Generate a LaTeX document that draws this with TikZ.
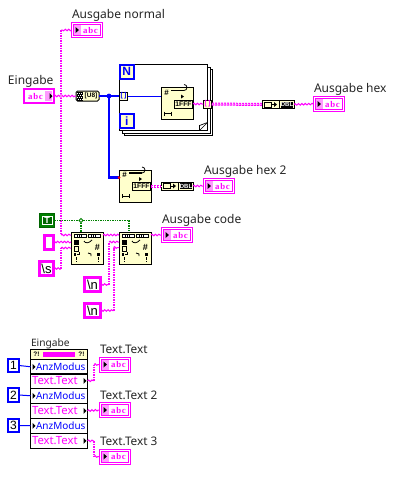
\documentclass[tikz,border=0pt]{standalone}
\usepackage{fontspec}
\setmainfont{Noto Sans}
\newfontfamily\abcfont[LetterSpace=9]{Liberation Serif}
\newfontfamily\monofnt{Liberation Sans}
\usetikzlibrary{decorations.pathmorphing,calc}
\definecolor{pnk}{RGB}{255,0,255}
\definecolor{lpnk}{RGB}{255,153,255}
\definecolor{pyl}{RGB}{255,255,204}
\definecolor{blu}{RGB}{0,0,255}
\definecolor{grn}{RGB}{0,128,0}
\definecolor{dgrn}{RGB}{0,100,0}
\tikzset{
  every node/.style={inner sep=0pt,outer sep=0pt},
  lbl/.style={anchor=base west,font=\fontsize{12}{12}\selectfont,text=black!85},
  smlbl/.style={anchor=base west,font=\fontsize{11.8}{12}\selectfont,text=black!85},
  strw/.style={pnk,line width=1pt,decorate,decoration={snake,segment length=3.4pt,amplitude=0.8pt}},
  strp/.style={pnk,line width=2pt,dash pattern=on 1.5pt off 1pt},
  strarr/.style={pnk,line width=3pt,dash pattern=on 2.2pt off 0.8pt,postaction={draw,white,line width=1pt,dash pattern=on 1pt off 2pt,dash phase=-0.6pt}},
  blthick/.style={blu,line width=2.4pt},
  blthin/.style={blu,line width=1pt},
  blmed/.style={blu,line width=1pt},
  grnw/.style={grn,line width=1.1pt,dash pattern=on 1.4pt off 1pt},
  ybox/.style={draw=black,fill=pyl,line width=1pt,minimum width=32pt,minimum height=32pt},
  regbox/.style={draw=black,fill=pyl,line width=1pt,minimum width=32pt,minimum height=32pt},
  convbox/.style={draw=black,fill=pyl,line width=1pt,minimum width=32pt,minimum height=8pt},
  tunnel/.style={draw=black,fill=pyl,line width=1pt,minimum width=8.5pt,minimum height=8pt},
  indbox/.style={draw=pnk,fill=white,line width=1pt,minimum width=31pt,minimum height=15pt},
  ctrlbox/.style={draw=pnk,fill=white,line width=2pt,minimum width=30pt,minimum height=14.5pt},
  strconst/.style={draw=pnk,fill=white,line width=3pt,font=\monofnt\fontsize{13}{13}\selectfont},
  numconst/.style={draw=blu,fill=white,line width=2.2pt,minimum width=11pt,minimum height=13.5pt,font=\monofnt\fontsize{12}{12}\selectfont},
  loopicon/.style={draw=blu,fill=pyl,line width=2pt,minimum width=13.5pt,minimum height=13.5pt,anchor=north west,font=\monofnt\bfseries\fontsize{12}{12}\selectfont,text=blu},
  loopbox/.style={draw=black,fill=white,line width=1pt,anchor=north west,minimum width=88pt,minimum height=66pt},
  tri/.style={fill=black},
  abctxt/.style={text=pnk,font=\abcfont\bfseries\fontsize{8.8}{9}\selectfont},
}
% indicator: name, centre x, centre y
\newcommand{\indic}[3]{%
  \node[indbox] (#1) at (#2,#3) {};
  \fill[lpnk] ($(#1.west)+(1.5,-6)$) rectangle ($(#1.west)+(9,6)$);
  \draw[pnk,line width=0.8pt] ($(#1.north west)+(2,2)$) rectangle ($(#1.south east)+(-2,-2)$);
  \fill[tri] ($(#1.west)+(4,-3)$) -- ($(#1.west)+(7.5,0)$) -- ($(#1.west)+(4,3)$) -- cycle;
  \node[abctxt] at ($(#1.center)+(3.5,0)$) {abc};
}
% regex-style node
\newcommand{\regicon}[2]{%
  \node[regbox] (#1) at (#2) {};
  \fill[black] ($(#1.north west)+(2.5,1.7)$) rectangle ($(#1.north west)+(15.5,6.3)$);
  \fill[black] ($(#1.north west)+(17,1.7)$) rectangle ($(#1.north west)+(30,6.3)$);
  \fill[white] ($(#1.north west)+(3.5,2.7)$) rectangle ($(#1.north west)+(14.5,5.3)$);
  \fill[white] ($(#1.north west)+(18,2.7)$) rectangle ($(#1.north west)+(29,5.3)$);
  \foreach \dx in {6,8,10,20,22,24}{\fill[black] ($(#1.north west)+(\dx,3)$) rectangle ++(1,2);}
  \fill[black] ($(#1.north west)+(2.5,7.5)$) rectangle ++(5,5.5);
  \draw[black,line width=0.8pt] ($(#1.north west)+(3,14.5)$) rectangle ++(4.5,4.5);
  \fill[black] ($(#1.north west)+(2.5,21)$) rectangle ++(2.5,2.5);
  \fill[black] ($(#1.north west)+(6,21.5)$) rectangle ++(3,1);
  \fill[black] ($(#1.north west)+(7.5,20)$) rectangle ++(1,2.5);
  \fill[black] ($(#1.north west)+(5,25)$) rectangle ++(1,3);
  \fill[black] ($(#1.north west)+(5,29)$) rectangle ++(1,1);
  \fill[black] ($(#1.north west)+(27,25)$) rectangle ++(1,3);
  \fill[black] ($(#1.north west)+(27,29)$) rectangle ++(1,1);
  \fill[black] ($(#1.north west)+(26,21)$) rectangle ++(3,3);
  \draw[black,line width=0.8pt] ($(#1.north west)+(13,9)$) .. controls ($(#1.north west)+(14,11.5)$) and ($(#1.north west)+(18,11.5)$) .. ($(#1.north west)+(21,8)$);
  \draw[black,line width=0.8pt] ($(#1.north west)+(17,21)$) -- ++(3,1) -- ++(0,2);
  \node[font=\monofnt\bfseries\fontsize{9}{9}\selectfont] at ($(#1.north west)+(26.5,15)$) {\#};
}
% string to hex node
\newcommand{\hexicon}[2]{%
  \node[ybox] (#1) at (#2) {};
  \node[font=\monofnt\bfseries\fontsize{8}{8}\selectfont] at ($(#1.north west)+(5.7,4.8)$) {\#};
  \draw[black,line width=1.6pt] ($(#1.north west)+(10,3)$) -- ++(13,0);
  \draw[black,line width=0.8pt] ($(#1.north west)+(23,3)$) arc (90:-90:3) ;
  \fill[black] ($(#1.north west)+(23,9)$) -- ++(-3,-2) -- ++(0,4) -- cycle;
  \node[draw=black,fill=pyl,line width=0.8pt,minimum width=18.5pt,minimum height=8pt,font=\monofnt\bfseries\fontsize{6.8}{6.8}\selectfont] at ($(#1.north east)+(-9.5,16.6)$) {1FFF};
  \draw[black,line width=0.8pt] ($(#1.south west)+(3,-6)$) -- ++(7,0);
  \draw[black,line width=1pt] ($(#1.south west)+(3,-8)$) -- ++(0,4) ($(#1.south west)+(10,-8)$) -- ++(0,4);
}
\newcommand{\convicon}[2]{%
  \node[convbox] (#1) at (#2) {};
  \draw[black,line width=0.8pt] ($(#1.west)+(2,-2.5)$) rectangle ++(7,5);
  \draw[black,line width=0.8pt] ($(#1.center)+(-6.5,0)$) -- ++(4,0);
  \fill[black] ($(#1.center)+(-1,0)$) -- ++(-3,-2.5) -- ++(0,5) -- cycle;
  \draw[black,line width=0.8pt] ($(#1.center)+(1.5,-4)$) -- ++(0,8);
  \fill[black] ($(#1.center)+(2.5,-3)$) rectangle ($(#1.east)+(-1.5,3)$);
  \node[text=white,font=\monofnt\bfseries\fontsize{6}{6}\selectfont] at ($(#1.center)+(9,0)$) {DBL};
}
\begin{document}
\begin{tikzpicture}[x=1pt,y=-1pt]
\useasboundingbox (0,0) rectangle (407,477);
% ---- nodes: labels
\node[lbl] at (72,18) {Ausgabe normal};
\node[lbl] at (8,84) {Eingabe};
\node[lbl] at (314,92) {Ausgabe hex};
\node[lbl] at (204,174) {Ausgabe hex 2};
\node[lbl] at (162,223) {Ausgabe code};
\node[anchor=base west,font=\fontsize{10.2}{10}\selectfont,text=black!85] at (31,346) {Eingabe};
\node[smlbl] at (100,353) {Text.Text};
\node[smlbl] at (100,399) {Text.Text 2};
\node[smlbl] at (100,445) {Text.Text 3};

% ---- loop frame
\node[loopbox] (loopc) at (124,69) {};
\node[loopbox] (loopb) at (122,67) {};
\node[loopbox] (loop) at (119.5,64.5) {};
\draw[black,line width=0.7pt] ($(loop.south east)+(-8,0)$) -- ($(loop.south east)+(-8,-5)$) -- ($(loop.south east)+(0,-8)$);
\draw[black,line width=0.7pt] ($(loop.south east)+(-8,0)$) -- ($(loop.south east)+(0,-8)$);
\node[loopicon] (nbox) at (120,65) {N};
\node[loopicon] (ibox) at (120,114) {i};

% ---- controls
\node[ctrlbox] (eing) at (39,96) {};
\fill[lpnk] ($(eing.east)+(-9,-5)$) rectangle ($(eing.east)+(-2,5)$);
\fill[tri] ($(eing.east)+(-4.5,-3)$) -- ($(eing.east)+(-1.5,0)$) -- ($(eing.east)+(-4.5,3)$) -- cycle;
\node[abctxt] at ($(eing.center)+(-3.5,0)$) {abc};
\indic{ind1}{87}{30}
\indic{ind2}{329}{104}
\indic{ind3}{219}{186}
\indic{ind4}{177}{235}
\indic{ind5}{115}{364.5}
\indic{ind6}{115}{410}
\indic{ind7}{115}{456.5}

% ---- function nodes
\node[draw=black,fill=pyl,line width=1pt,minimum width=23pt,minimum height=10pt,rounded corners=1.5pt] (u8) at (87.5,96) {};
\fill[black] ($(u8.west)+(0.5,-4.5)$) rectangle ++(6,9);
\foreach \px in {1,3,5}{\fill[white] ($(u8.west)+(\px,-3.5)$) rectangle ++(1,1);\fill[white] ($(u8.west)+(\px+1,-1.5)$) rectangle ++(1,1);\fill[white] ($(u8.west)+(\px,0.5)$) rectangle ++(1,1);\fill[white] ($(u8.west)+(\px+1,2.5)$) rectangle ++(1,1);}
\node[font=\monofnt\bfseries\fontsize{6.5}{6.5}\selectfont] at ($(u8.center)+(3.5,0)$) {[U8]};

\hexicon{hex1}{177,103.5}
\hexicon{hex2}{135,186}
\convicon{conv1}{278,104.5}
\convicon{conv2}{177,186}
\regicon{reg1}{87,248}
\regicon{reg2}{135,248}

\node[tunnel,font=\monofnt\bfseries\fontsize{7}{7}\selectfont,text=blu] (tin) at (123.5,96) {[\,]};
\node[tunnel,font=\monofnt\bfseries\fontsize{7}{7}\selectfont,text=pnk] (tout) at (207.5,104) {[\,]};

% ---- constants
\node[draw=dgrn,fill=grn,line width=1pt,minimum width=15pt,minimum height=13.5pt] (tconst) at (47,220.5) {};
\node[draw=white,fill=dgrn,line width=1pt,minimum width=10pt,minimum height=8pt,text=white,font=\monofnt\bfseries\fontsize{9}{9}\selectfont] at (tconst.center) {T};
\node[strconst,minimum width=8.5pt,minimum height=14pt] (cempty) at (49,242.5) {};
\node[strconst,minimum width=14.5pt,minimum height=14.5pt] (cs) at (46.5,268.5) {\textbackslash s};
\node[strconst,minimum width=15.5pt,minimum height=14.5pt] (cn1) at (92.5,284.5) {\textbackslash n};
\node[strconst,minimum width=15.5pt,minimum height=14.5pt] (cn2) at (92.5,310.5) {\textbackslash n};

% ---- wires
\coordinate (j1) at (61,96);
\coordinate (j2) at (109,96);
\coordinate (j3) at (81,220.5);
\coordinate (t1) at (61,30);
\coordinate (t2) at (61,235);
\coordinate (s1) at (61,268.5);
\coordinate (s2) at (61,248);
\coordinate (n1) at (109,284.5);
\coordinate (n2) at (109,242);
\coordinate (m1) at (113.5,310.5);
\coordinate (m2) at (113.5,247.5);
\coordinate (p1) at (94,380.7);
\coordinate (p2) at (94,364.5);
\coordinate (q1) at (94,441);
\coordinate (q2) at (94,456.5);
\draw[strw] (eing.east) -- (u8.west);
\draw[strw] (ind1.west) -- (t1);
\draw[strp] (t1) -- (t2);
\draw[strw] (t2) -- (reg1.west |- t2);
\draw[pnk,line width=0.7pt,fill=white] (j1) circle (1.5);
\draw[blthick] (u8.east) -- (tin.west);
\fill[blu] (j2) circle (2.4);
\coordinate (hexin) at (hex2.west |- 0,177.5);
\draw[blthick] (j2) |- (hexin);
\fill[red] (hexin) circle (1.5);
\draw[blthin] (tin.east) -- (hex1.west |- tin.east);
\draw[strw] (hex1.east |- tout.west) -- (tout.west);
\draw[strarr] (tout.east) -- (conv1.west);
\draw[strw] (conv1.east) -- (ind2.west);
\draw[strarr] (hex2.east) -- (conv2.west);
\draw[strw] (conv2.east) -- (ind3.west);
\draw[grnw] (tconst.east) -- (j3) -| (129,232);
\draw[grnw] (j3) -- (reg1.north -| j3);
\draw[grn,line width=0.8pt,fill=white] (j3) ++(-2,0) -- ++(2,-2) -- ++(2,2) -- ++(-2,2) -- cycle;
\draw[strw] (reg1.east |- 0,235) -- (reg2.west |- 0,235);
\draw[strw] (reg2.east |- 0,235) -- (ind4.west |- 0,235);
\draw[strw] (cempty.east |- 0,242) -- (reg1.west |- 0,242);
\draw[strw] (cs.east) -- (s1);
\draw[strp] (s1) -- (s2);
\draw[strw] (s2) -- (reg1.west |- s2);
\draw[strw] (cn1.east) -- (n1);
\draw[strp] (n1) -- (n2);
\draw[strw] (n2) -- (reg2.west |- n2);
\draw[strw] (cn2.east) -- (m1);
\draw[strp] (m1) -- (m2);
\draw[strw] (m2) -- (reg2.west |- m2);

% ---- property node
\node[draw=black,fill=white,line width=1pt,minimum width=57pt,minimum height=99pt,anchor=north west] (pn) at (30.5,349.5) {};
\fill[pyl] ($(pn.north west)+(0.5,0.5)$) rectangle ($(pn.north east)+(-0.5,10)$);
\draw[black,line width=1pt] ($(pn.north west)+(0,10)$) -- ($(pn.north east)+(0,10)$);
\fill[pnk] (43,351.5) rectangle (75,356.5);
\node[font=\monofnt\bfseries\fontsize{6.5}{6.5}\selectfont] at (36.5,354) {?!};
\node[font=\monofnt\bfseries\fontsize{6.5}{6.5}\selectfont] at (81.5,354) {?!};
\foreach \yy/\nm/\cl/\nr/\xx/\fs in {359.5/AnzModus/blu/r1/36/10,373.5/Text.Text/pnk/r2/32/11.3,388.5/AnzModus/blu/r3/36/10,403.5/Text.Text/pnk/r4/32/11.3,418.5/AnzModus/blu/r5/36/10,433.5/Text.Text/pnk/r6/32/11.3}{
  \node[draw=black,line width=1pt,anchor=north west,minimum width=57pt,minimum height=14.5pt] (\nr) at (30.5,\yy) {};
  \node[anchor=west,font=\fontsize{\fs}{12}\selectfont,text=\cl] at (\xx,\yy+7.5) {\nm};
}
\foreach \nr in {r1,r3,r5}{\fill[tri] ($(\nr.west)+(2,-3)$) -- ($(\nr.west)+(5,0)$) -- ($(\nr.west)+(2,3)$) -- cycle;}
\foreach \nr in {r2,r4,r6}{\fill[tri] ($(\nr.east)+(-4,-3)$) -- ($(\nr.east)+(-1,0)$) -- ($(\nr.east)+(-4,3)$) -- cycle;}
\node[numconst] (k1) at (13.5,365.5) {1};
\node[numconst] (k2) at (13.5,395) {2};
\node[numconst] (k3) at (13.5,425.5) {3};
\draw[blmed] (k1.east) -- (r1.west);
\draw[blmed] (k2.east) -- (r3.west);
\draw[blmed] (k3.east) -- (r5.west);
\draw[strw] (r2.east) -- (p1);
\draw[strp] (p1) -- (p2);
\draw[strw] (p2) -- (ind5.west);
\draw[strw] (r4.east) -- (ind6.west);
\draw[strw] (r6.east) -- (q1);
\draw[strp] (q1) -- (q2);
\draw[strw] (q2) -- (ind7.west);
\end{tikzpicture}
\end{document}
